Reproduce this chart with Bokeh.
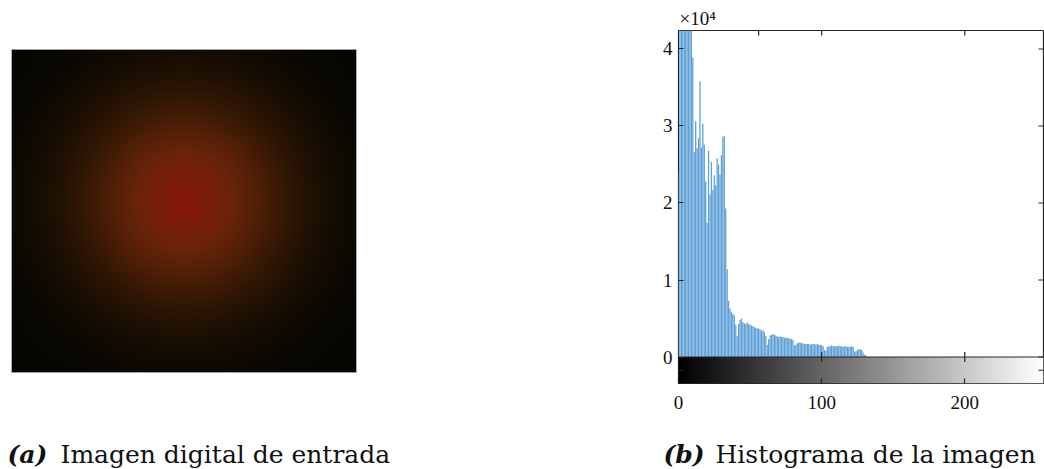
import numpy as np
from bokeh.plotting import figure
from bokeh.layouts import row, column
from bokeh.models import Range1d, FixedTicker, LinearAxis, Span
from bokeh.core.properties import value
from bokeh.palettes import gray
from bokeh.embed import file_html
from bokeh.resources import INLINE

# ---------------- data ----------------
intensity = list(range(256))
# histogram counts for intensity levels 0..131, rest are zero
counts_head = [
    23900, 49000, 56000, 52000, 47000, 50000, 46000, 44000, 45000, 43000,
    38900, 26600, 30600, 27100, 28400, 35800, 27200, 30300, 27600, 22800,
    17400, 26800, 21100, 25300, 21700, 23600, 22300, 25800, 25000, 23700,
    26200, 28600, 28700, 19300, 11400, 7300, 6300, 5800, 5600, 5400,
    4200, 2700, 4300, 4800, 5000, 4500, 4400, 4300, 4500, 4300,
    4200, 4100, 4000, 3900, 3800, 3700, 3700, 3600, 3400, 3500,
    3200, 2700, 1600, 2300, 2800, 2900, 3000, 2900, 2800, 2700,
    2600, 2700, 2600, 2600, 2500, 2500, 2500, 2400, 2400, 2300,
    2200, 1500, 1600, 1800, 1900, 1900, 1800, 1800, 1700, 1700,
    1700, 1700, 1600, 1700, 1700, 1700, 1600, 1700, 1600, 1600,
    1500, 1400, 900, 800, 1300, 1400, 1400, 1500, 1400, 1400,
    1400, 1400, 1500, 1400, 1400, 1300, 1400, 1400, 1300, 1300,
    1300, 1400, 1300, 700, 700, 900, 1000, 1000, 900, 600,
    300, 200,
]
counts = counts_head + [0] * (256 - len(counts_head))
y_ticks = [0, 10000, 20000, 30000, 40000]
y_tick_labels = ["0", "1", "2", "3", "4"]
x_ticks = [0, 100, 200]
x_tick_labels = ["0", "100", "200"]
top_ticks = [56, 100, 200]
y_min, y_max = -3440, 42400
caption_a = ("(a)", "Imagen digital de entrada")
caption_b = ("(b)", "Histograma de la imagen")

SERIF = "Liberation Serif"
CAP_FONT = "DejaVu Serif"
AX = "#262626"
TXT = "#111111"

# ---------------- input image (radial red gradient) ----------------
H, W = 323, 345
yy, xx = np.mgrid[0:H, 0:W]
cx, cy = 0.50 * W, 0.53 * H
r = np.hypot((xx - cx) / W, (yy - cy) / W)
R = 5 + 125 * np.exp(-(r / 0.30) ** 2)
G = 4 + 40 * np.exp(-(r / 0.35) ** 2) - 20 * np.exp(-(r / 0.10) ** 2)
B = 2 + 8 * np.exp(-(r / 0.30) ** 2)
img = np.empty((H, W), dtype=np.uint32)
view = img.view(dtype=np.uint8).reshape((H, W, 4))
view[..., 0] = np.clip(R, 0, 255).astype(np.uint8)
view[..., 1] = np.clip(G, 0, 255).astype(np.uint8)
view[..., 2] = np.clip(B, 0, 255).astype(np.uint8)
view[..., 3] = 255

ROW_H = 425
TOP, FRAME_H = 30, 353
BOT = ROW_H - TOP - FRAME_H

# frame spans 30..383 px; the picture occupies 49..372 px inside it
p1 = figure(width=528, height=ROW_H, x_range=Range1d(0, W),
            y_range=Range1d(-(383 - 372), H + (49 - 30)),
            output_backend="svg", toolbar_location=None,
            x_axis_location=None, y_axis_location=None,
            min_border_left=11, min_border_right=172, min_border_top=TOP,
            min_border_bottom=BOT)
p1.grid.visible = False
p1.outline_line_color = None
p1.image_rgba(image=[img], x=0, y=0, dw=W, dh=H)
p1.quad(left=[0], right=[W], bottom=[0], top=[H], fill_color=None,
        line_color="#a0a0a0", line_width=1)

# ---------------- histogram ----------------
p2 = figure(width=516, height=ROW_H, x_range=Range1d(0, 255), y_range=Range1d(y_min, y_max),
            output_backend="svg", toolbar_location=None,
            x_axis_location=None, y_axis_location=None,
            min_border_left=150, min_border_right=1, min_border_top=TOP,
            min_border_bottom=BOT)
p2.grid.visible = False
p2.outline_line_color = AX
p2.outline_line_width = 1.2

p2.vbar(x=intensity, top=counts, bottom=0, width=0.9, fill_color="#5fa1d7", line_color=None)

# grayscale colour bar below zero
ramp = np.array([intensity], dtype=float)
p2.image(image=[ramp], x=0, y=y_min, dw=255, dh=-y_min, palette=gray(256))
p2.add_layout(Span(location=0, dimension="width", line_color=AX, line_width=1.2))
# tick marks crossing the zero line, on the right edge and on the top edge
p2.scatter(x=[100, 200], y=[0, 0], marker="dash", angle=np.pi / 2, size=10,
           line_color=AX, line_width=1.2)
right_y = y_ticks + [y_min / 2]
p2.scatter(x=[255] * len(right_y), y=right_y, marker="dash", size=10,
           line_color=AX, line_width=1.2)
p2.scatter(x=top_ticks, y=[y_max] * len(top_ticks), marker="dash", angle=np.pi / 2, size=10,
           line_color=AX, line_width=1.2)

def style_axis(ax, ticks, overrides):
    ax.ticker = FixedTicker(ticks=ticks)
    ax.major_label_overrides = overrides
    ax.axis_line_color = None
    ax.major_tick_in = 5
    ax.major_tick_out = 0
    ax.major_tick_line_color = AX
    ax.major_tick_line_width = 1.2
    ax.minor_tick_line_color = None
    ax.major_label_text_font = SERIF
    ax.major_label_text_font_size = "19px"
    ax.major_label_text_color = TXT

yt = y_ticks + [y_min / 2]
yo = {t: l for t, l in zip(y_ticks, y_tick_labels)}
yo[y_min / 2] = ""
left = LinearAxis()
style_axis(left, yt, yo)
left.major_label_standoff = 6
p2.add_layout(left, "left")
bottom = LinearAxis()
style_axis(bottom, x_ticks, {t: l for t, l in zip(x_ticks, x_tick_labels)})
bottom.major_label_standoff = 12
p2.add_layout(bottom, "below")

p2.title.text = "×10⁴"
p2.title.align = "left"
p2.title.offset = 1
p2.title.standoff = 4
p2.title.text_font = SERIF
p2.title.text_font_size = "19px"
p2.title.text_font_style = "normal"
p2.title.text_color = TXT

# ---------------- captions ----------------
CAP_H = 469 - ROW_H
cap = figure(width=1044, height=CAP_H, x_range=Range1d(0, 1044), y_range=Range1d(0, CAP_H),
             title=None, output_backend="svg", toolbar_location=None,
             x_axis_location=None, y_axis_location=None, min_border=0)
cap.grid.visible = False
cap.outline_line_color = None
cap_x = [7, 60, 663, 715]
cap_txt = [caption_a[0], caption_a[1], caption_b[0], caption_b[1]]
cap_style = ["bold italic", "normal", "bold italic", "normal"]
for x0, txt, style in zip(cap_x, cap_txt, cap_style):
    cap.text(x=[x0], y=[15], text=[txt], text_font=value(CAP_FONT), text_font_style=style,
             text_font_size="25px", text_color=TXT, text_baseline="alphabetic",
             text_align="left")

layout = column(row(p1, p2), cap)
open("out.html", "w").write(file_html(layout, INLINE))
